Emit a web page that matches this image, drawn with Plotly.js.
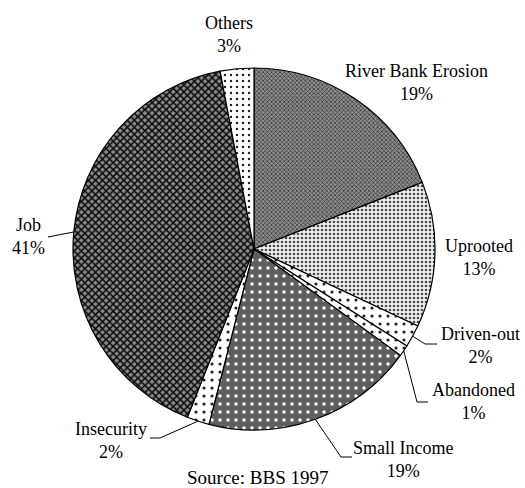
<!DOCTYPE html>
<html>
<head>
<meta charset="utf-8">
<script src="https://cdn.plot.ly/plotly-3.0.1.min.js"></script>
<style>
  html, body { margin: 0; padding: 0; background: #fff; }
  #chart { width: 525px; height: 488px; }
</style>
</head>
<body>
<div id="chart"></div>
<script>
// Reasons for migration (share of respondents, %), clockwise from 12 o'clock
const categories = ['River Bank Erosion', 'Uprooted', 'Driven-out', 'Abandoned',
                    'Small Income', 'Insecurity', 'Job', 'Others'];
const shares = [19, 13, 2, 1, 19, 2, 41, 3];
const sourceNote = 'Source: BBS 1997';

// Fill textures per slice
const patShape = ['x', '.', '.', '.', '.', '.', 'x', '.'];
const patFg    = ['#303030', '#4a4a4a', '#222', '#222', '#ffffff', '#222', '#0a0a0a', '#222'];
const patBg    = ['#8e8e8e', '#f0f0f0', '#ffffff', '#ffffff', '#5e5e5e', '#ffffff', '#8a8a8a', '#ffffff'];
const patSize  = [3, 4, 8, 8, 8, 8, 5, 6];
const patSolid = [0.4, 0.35, 0.12, 0.12, 0.15, 0.12, 0.5, 0.14];

const W = 525, H = 488;
const pieDomain = { x: [73 / W, 435 / W], y: [1 - 430 / H, 1 - 68 / H] };
const serif = 'Liberation Serif';

// Label placement (pixel centre of the two-line block) and leader-line bends
const labelPos = {
  'River Bank Erosion': [416, 82],
  'Uprooted':           [479, 257],
  'Driven-out':         [480, 345],
  'Abandoned':          [474, 401],
  'Small Income':       [403, 459],
  'Insecurity':         [111, 440],
  'Job':                [28, 237],
  'Others':             [229, 34]
};
const leaderBends = {
  'Driven-out':   [[425, 344], [437, 344]],
  'Abandoned':    [[417, 402], [428, 402]],
  'Small Income': [[341, 457], [352, 457]],
  'Insecurity':   [[160, 438], [150, 438]],
  'Job':          [[48, 237]]
};

const px2x = p => p / W;
const px2y = p => 1 - p / H;

// Pie geometry in pixels, from the domain
const cx = (pieDomain.x[0] + pieDomain.x[1]) / 2 * W;
const cy = (1 - (pieDomain.y[0] + pieDomain.y[1]) / 2) * H;
const R = Math.min((pieDomain.x[1] - pieDomain.x[0]) * W, (pieDomain.y[1] - pieDomain.y[0]) * H) / 2;

const total = shares.reduce((a, b) => a + b, 0);
let cum = 0;
const shapes = [];
const annotations = [];
categories.forEach((name, i) => {
  const mid = (cum + shares[i] / 2) / total * 2 * Math.PI; // clockwise from top
  cum += shares[i];
  const ex = cx + R * Math.sin(mid);
  const ey = cy - R * Math.cos(mid);
  const bends = leaderBends[name];
  if (bends) {
    let path = 'M ' + px2x(ex) + ',' + px2y(ey);
    bends.forEach(b => { path += ' L ' + px2x(b[0]) + ',' + px2y(b[1]); });
    shapes.push({ type: 'path', xref: 'paper', yref: 'paper', path: path,
                  line: { color: '#000', width: 1 } });
  }
  const lp = labelPos[name];
  annotations.push({
    xref: 'paper', yref: 'paper', x: px2x(lp[0]), y: px2y(lp[1]),
    xanchor: 'center', yanchor: 'middle', showarrow: false, align: 'center',
    text: name + '<br>' + shares[i] + '%',
    font: { family: serif, size: 18, color: '#000' }
  });
});

annotations.push({
  xref: 'paper', yref: 'paper', x: px2x(257), y: px2y(477),
  xanchor: 'center', yanchor: 'middle', showarrow: false,
  text: sourceNote,
  font: { family: serif, size: 19, color: '#000' }
});

const trace = {
  type: 'pie',
  labels: categories,
  values: shares,
  sort: false,
  direction: 'clockwise',
  rotation: 0,
  textinfo: 'none',
  hoverinfo: 'label+percent',
  domain: pieDomain,
  marker: {
    colors: patBg,
    line: { color: '#000', width: 1.2 },
    pattern: { shape: patShape, fgcolor: patFg, bgcolor: patBg,
               size: patSize, solidity: patSolid, fillmode: 'replace' }
  }
};

Plotly.newPlot('chart', [trace], {
  width: W, height: H,
  margin: { l: 0, r: 0, t: 0, b: 0 },
  paper_bgcolor: '#fff',
  showlegend: false,
  shapes: shapes,
  annotations: annotations
}, { staticPlot: true });
</script>
</body>
</html>
